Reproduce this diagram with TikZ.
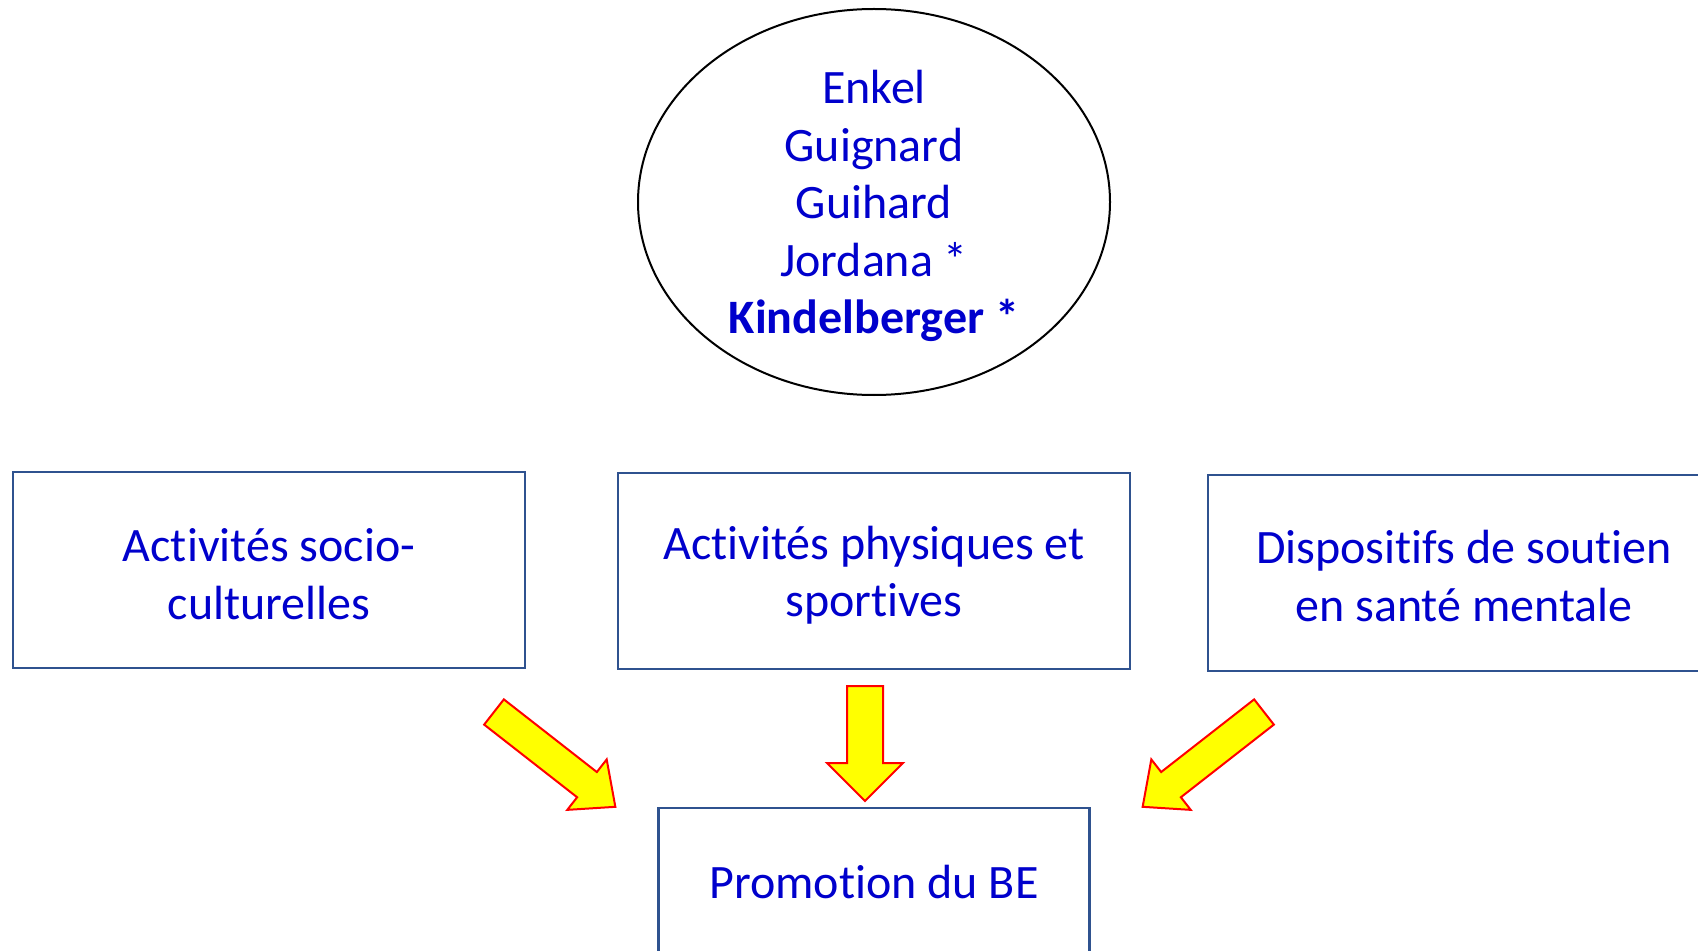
\documentclass[tikz,border=0pt]{standalone}
\usepackage{fontspec}
\setmainfont{Carlito}[Ligatures={NoCommon,NoContextual}, Contextuals=NoAlternate]
\usetikzlibrary{shapes.geometric,positioning,calc}
\definecolor{txtblue}{RGB}{0,0,204}
\definecolor{boxblue}{RGB}{47,82,143}
\definecolor{arrred}{RGB}{255,0,0}
\definecolor{arryellow}{RGB}{255,255,0}

\newcommand{\fleche}[6]{%
\draw[blockarr, shift={(#1)}, rotate=#2]
(0,-#4) -- ({#3-#6},-#4) -- ({#3-#6},-#5) -- (#3,0) -- ({#3-#6},#5) -- ({#3-#6},#4) -- (0,#4) -- cycle;}

\begin{document}
\begin{tikzpicture}[x=0.5pt,y=0.5pt,
  txt/.style={text=txtblue, align=center, font=\fontsize{24}{28.75}\selectfont},
  authors/.style={ellipse, draw=black, line width=1pt, inner sep=0pt,
    minimum width=236pt, minimum height=193pt},
  theme/.style={rectangle, draw=boxblue, line width=1.2pt, inner sep=0pt,
    minimum width=256pt, minimum height=98pt},
  blockarr/.style={fill=arryellow, draw=arrred, line width=1pt, line join=miter}]

\useasboundingbox (0,0) rectangle (1698,950);

\node[authors] (auteurs) at (874,748) {};
\node[txt] (noms) at ($(auteurs.center)+(0,-4)$)
{Enkel\\Guignard\\Guihard\\Jordana *\\\textbf{Kindelberger *}};

\node[theme] (socio) at (269,380) {};
\node[txt] (socio-t) at ($(socio.center)+(0,-4)$) {Activités socio-\\culturelles};
\node[theme] (physique) at (874,379) {};
\node[txt] (physique-t) at ($(physique.center)+(0,-4)$) {Activités physiques et\\sportives};
\node[theme] (soutien) at (1464,377) {};
\node[txt] (soutien-t) at ($(soutien.center)+(0,-3)$) {Dispositifs de soutien\\en santé mentale};

\node[theme, txt, minimum width=215.5pt, minimum height=74pt] (promo) at (874,68) {Promotion du BE};

\coordinate (queueL) at (494,238);
\coordinate (queueM) at (865,264);
\coordinate (queueR) at (1264,238);

\fleche{queueL}{-38}{154}{16}{32}{36}
\fleche{queueM}{-90}{115}{18}{38}{38}
\fleche{queueR}{-142}{154}{16}{32}{36}

\end{tikzpicture}
\end{document}
